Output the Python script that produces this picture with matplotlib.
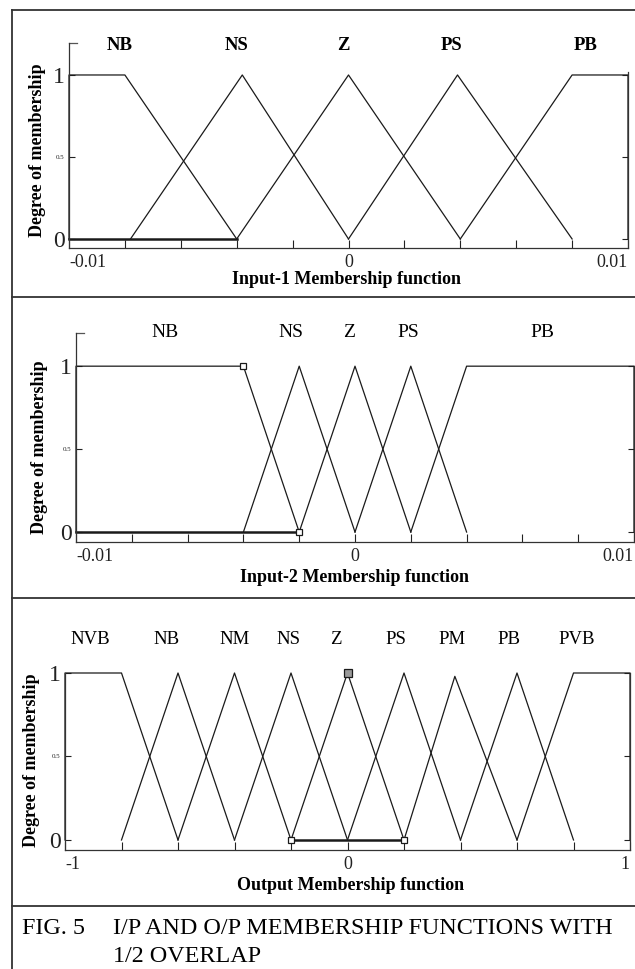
import matplotlib.pyplot as plt

plt.rcParams['font.family'] = ['Liberation Serif', 'DejaVu Serif']

W, H = 635, 969
LINE = '#1a1a1a'

# ---- Input-1 membership functions (trapezoid a, b, c, d) ----
in1_names = ['NB', 'NS', 'Z', 'PS', 'PB']
in1_mf = [[-0.01, -0.01, -0.008, -0.004],
          [-0.0078, -0.0038, -0.0038, 0.0],
          [-0.004, 0.0, 0.0, 0.004],
          [0.0, 0.0039, 0.0039, 0.008],
          [0.004, 0.008, 0.01, 0.01]]
in1_base = [-0.01, -0.004]
in1_label_x = [-0.0082, -0.0040, -0.0002, 0.0037, 0.0085]

# ---- Input-2 membership functions ----
in2_names = ['NB', 'NS', 'Z', 'PS', 'PB']
in2_mf = [[-0.01, -0.01, -0.004, -0.002],
          [-0.004, -0.002, -0.002, 0.0],
          [-0.002, 0.0, 0.0, 0.002],
          [0.0, 0.002, 0.002, 0.004],
          [0.002, 0.004, 0.01, 0.01]]
in2_base = [-0.01, -0.002]
in2_marks = [(-0.004, 1.0), (-0.002, 0.0)]
in2_label_x = [-0.0068, -0.0023, -0.0002, 0.0019, 0.0067]

# ---- Output membership functions ----
out_names = ['NVB', 'NB', 'NM', 'NS', 'Z', 'PS', 'PM', 'PB', 'PVB']
out_mf = [[-1.0, -1.0, -0.8, -0.6],
          [-0.8, -0.6, -0.6, -0.4],
          [-0.6, -0.4, -0.4, -0.2],
          [-0.4, -0.2, -0.2, 0.0],
          [-0.2, 0.0, 0.0, 0.2],
          [0.0, 0.2, 0.2, 0.4],
          [0.2, 0.38, 0.38, 0.6],
          [0.4, 0.6, 0.6, 0.8],
          [0.6, 0.8, 1.0, 1.0]]
out_peak = [1, 1, 1, 1, 1, 1, 0.98, 1, 1]
out_base = [-0.2, 0.2]
out_marks = [(-0.2, 0.0), (0.2, 0.0)]
out_top_mark = (0.0, 1.0)
out_label_x = [-0.91, -0.64, -0.40, -0.21, -0.04, 0.17, 0.37, 0.57, 0.81]


fig = plt.figure(figsize=(W / 100, H / 100), dpi=100)


def px_axes(left, right, top, bottom):
    return fig.add_axes([left / W, 1 - bottom / H, (right - left) / W, (bottom - top) / H])


def draw_mfs(ax, mfs, peaks=None):
    for i, (a, b, c, d) in enumerate(mfs):
        p = 1.0 if peaks is None else peaks[i]
        ax.plot([a, b, c, d], [0, p, p, 0], color=LINE, lw=0.9, clip_on=False)


def style_axes(ax, xlim, ylim, xticks, xlabels, right_top, top_stub=True):
    ax.set_xlim(xlim)
    ax.set_ylim(ylim)
    ax.spines['top'].set_visible(False)
    for s in ['left', 'bottom', 'right']:
        ax.spines[s].set_color('#333333')
        ax.spines[s].set_linewidth(0.9)
    ax.spines['right'].set_bounds(ylim[0], right_top)
    ax.set_xticks(xticks)
    ax.set_xticklabels(xlabels, fontsize=13)
    labs = ax.get_xticklabels()
    labs[0].set_ha('left')
    labs[-1].set_ha('right')
    ax.set_yticks([0, 0.5, 1])
    ax.set_yticklabels(['0', '0.5', '1'])
    ylabs = ax.get_yticklabels()
    ylabs[0].set_fontsize(17)
    ylabs[1].set_fontsize(5)
    ylabs[2].set_fontsize(17)
    ax.tick_params(axis='x', direction='in', length=6, width=0.8, pad=4, colors='#222222')
    ax.tick_params(axis='y', direction='in', length=4, width=0.8, pad=3, right=True,
                   colors='#222222')
    if top_stub:
        ax.plot([0, 0.015], [1, 1], transform=ax.transAxes, color='#555555', lw=0.9,
                clip_on=False)


def ylab(x, y):
    fig.text(x / W, 1 - y / H, 'Degree of membership', rotation=90, ha='center',
             va='center', fontsize=13, fontweight='bold')


def xlab(x, y, s):
    fig.text(x / W, 1 - y / H, s, ha='center', va='center', fontsize=13,
             fontweight='bold')


# ---------- panel 1 ----------
ax1 = px_axes(69, 628, 43, 248)
draw_mfs(ax1, in1_mf)
ax1.plot(in1_base, [0, 0], color=LINE, lw=1.8, clip_on=False)
style_axes(ax1, (-0.01, 0.01), (-0.055, 1.195),
           [-0.01 + 0.002 * i for i in range(11)],
           ['-0.01'] + [''] * 4 + ['0'] + [''] * 4 + ['0.01'], 1.02)
ax1.get_xticklabels()[-1].set_x(0.0096)
for name, x in zip(in1_names, in1_label_x):
    ax1.text(x, 1.18, name, ha='center', va='center', fontsize=13.5, fontweight='bold')
ylab(38, 150)
xlab(347, 280, 'Input-1 Membership function')

# ---------- panel 2 ----------
ax2 = px_axes(76, 634, 333, 542)
draw_mfs(ax2, in2_mf)
ax2.plot(in2_base, [0, 0], color=LINE, lw=1.8, clip_on=False)
for mx, my in in2_marks:
    ax2.plot(mx, my, marker='s', ms=5, mfc='white', mec=LINE, mew=0.9, clip_on=False)
style_axes(ax2, (-0.01, 0.01), (-0.06, 1.2),
           [-0.01 + 0.002 * i for i in range(11)],
           ['-0.01'] + [''] * 4 + ['0'] + [''] * 4 + ['0.01'], 1.0)
for name, x in zip(in2_names, in2_label_x):
    ax2.text(x, 1.205, name, ha='center', va='center', fontsize=14)
ylab(40, 447)
xlab(355, 577, 'Input-2 Membership function')

# ---------- panel 3 ----------
ax3 = px_axes(65, 630, 673, 850)
draw_mfs(ax3, out_mf, out_peak)
ax3.plot(out_base, [0, 0], color=LINE, lw=1.8, clip_on=False)
for mx, my in out_marks:
    ax3.plot(mx, my, marker='s', ms=5, mfc='white', mec=LINE, mew=0.9, clip_on=False)
ax3.plot(*out_top_mark, marker='s', ms=6, mfc='#999999', mec=LINE, mew=0.9, clip_on=False)
style_axes(ax3, (-1, 1), (-0.06, 1.0),
           [-1 + 0.2 * i for i in range(11)],
           ['-1'] + [''] * 4 + ['0'] + [''] * 4 + ['1'], 1.0, top_stub=False)
for name, x in zip(out_names, out_label_x):
    ax3.text(x, 1.2, name, ha='center', va='center', fontsize=13.5)
ylab(32, 760)
xlab(351, 886, 'Output Membership function')

# ---------- frame lines ----------
border = dict(color='#333333', lw=1.3, transform=fig.transFigure, clip_on=False)
fig.add_artist(plt.Line2D([12 / W, 12 / W], [1 - 10 / H, 0], **border))
for yy in [10, 297, 598, 906]:
    fig.add_artist(plt.Line2D([12 / W, 1], [1 - yy / H, 1 - yy / H], **border))

# ---------- caption ----------
fig.text(22 / W, 1 - 929 / H, 'FIG. 5', ha='left', va='center', fontsize=17.4)
fig.text(113 / W, 1 - 929 / H, 'I/P AND O/P MEMBERSHIP FUNCTIONS WITH', ha='left',
         va='center', fontsize=17.4)
fig.text(113 / W, 1 - 957 / H, '1/2 OVERLAP', ha='left', va='center', fontsize=17.4)

fig.savefig('out.png', dpi=100)
